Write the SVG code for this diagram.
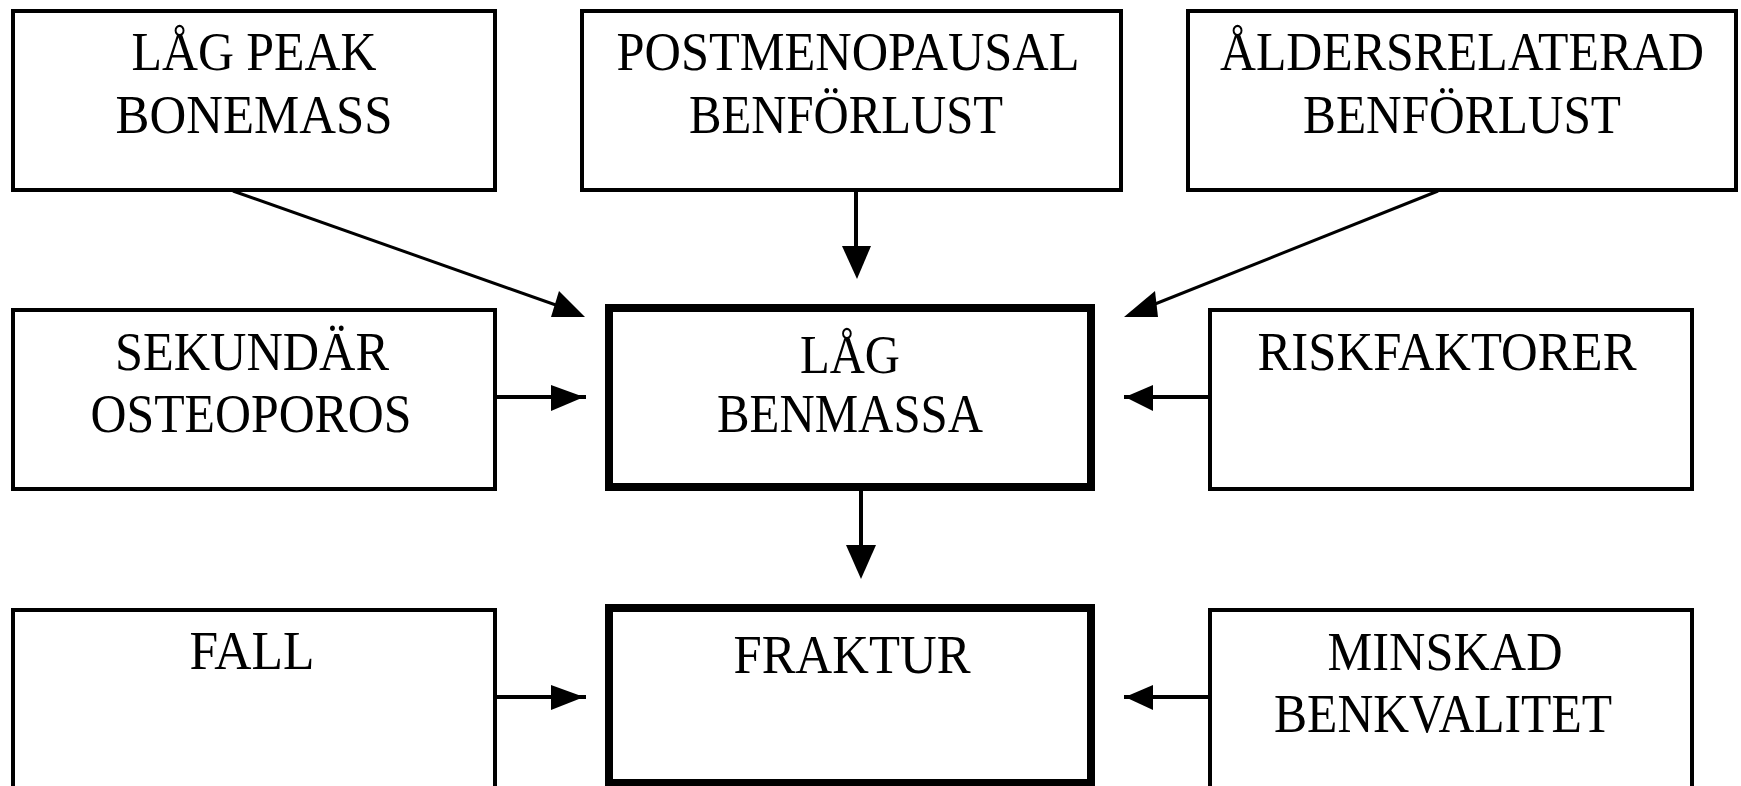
<svg xmlns="http://www.w3.org/2000/svg" width="1741" height="786" viewBox="0 0 1741 786">
<style>
.box{fill:#fff;stroke:#000;stroke-width:4}
.thick{fill:#fff;stroke:#000;stroke-width:8}
.lbl{font-family:"Liberation Serif","Times New Roman",serif;font-size:55px;fill:#000;text-anchor:middle}
.ln{stroke:#000;stroke-width:4;fill:none}
.dg{stroke:#000;stroke-width:3;fill:none}
.ah{fill:#000;stroke:none}
</style>
<rect width="1741" height="786" fill="#fff"/>
<g id="node-lag-peak">
<rect class="box" x="13" y="11" width="482" height="179"/>
<text class="lbl" x="254" y="70" textLength="245" lengthAdjust="spacingAndGlyphs">LÅG PEAK</text>
<text class="lbl" x="254" y="133" textLength="277" lengthAdjust="spacingAndGlyphs">BONEMASS</text>
</g>
<g id="node-postmenopausal">
<rect class="box" x="582" y="11" width="539" height="179"/>
<text class="lbl" x="848" y="70" textLength="463" lengthAdjust="spacingAndGlyphs">POSTMENOPAUSAL</text>
<text class="lbl" x="846" y="133" textLength="314" lengthAdjust="spacingAndGlyphs">BENFÖRLUST</text>
</g>
<g id="node-aldersrelaterad">
<rect class="box" x="1188" y="11" width="548" height="179"/>
<text class="lbl" x="1462" y="70" textLength="484" lengthAdjust="spacingAndGlyphs">ÅLDERSRELATERAD</text>
<text class="lbl" x="1462" y="133" textLength="318" lengthAdjust="spacingAndGlyphs">BENFÖRLUST</text>
</g>
<g id="node-sekundar">
<rect class="box" x="13" y="310" width="482" height="179"/>
<text class="lbl" x="252" y="370" textLength="274" lengthAdjust="spacingAndGlyphs">SEKUNDÄR</text>
<text class="lbl" x="251" y="432" textLength="321" lengthAdjust="spacingAndGlyphs">OSTEOPOROS</text>
</g>
<g id="node-lag-benmassa">
<rect class="thick" x="609" y="308" width="482" height="179"/>
<text class="lbl" x="850" y="373" textLength="100" lengthAdjust="spacingAndGlyphs">LÅG</text>
<text class="lbl" x="850" y="432" textLength="266" lengthAdjust="spacingAndGlyphs">BENMASSA</text>
</g>
<g id="node-riskfaktorer">
<rect class="box" x="1210" y="310" width="482" height="179"/>
<text class="lbl" x="1447" y="370" textLength="379" lengthAdjust="spacingAndGlyphs">RISKFAKTORER</text>
</g>
<g id="node-fall">
<rect class="box" x="13" y="610" width="482" height="200"/>
<text class="lbl" x="252" y="669" textLength="125" lengthAdjust="spacingAndGlyphs">FALL</text>
</g>
<g id="node-fraktur">
<rect class="thick" x="609" y="608" width="482" height="175"/>
<text class="lbl" x="852" y="673" textLength="237" lengthAdjust="spacingAndGlyphs">FRAKTUR</text>
</g>
<g id="node-minskad">
<rect class="box" x="1210" y="610" width="482" height="200"/>
<text class="lbl" x="1445" y="670" textLength="235" lengthAdjust="spacingAndGlyphs">MINSKAD</text>
<text class="lbl" x="1443" y="732" textLength="338" lengthAdjust="spacingAndGlyphs">BENKVALITET</text>
</g>
<g id="connectors">
<line class="dg" x1="233" y1="191" x2="570" y2="310"/>
<polygon class="ah" points="559,291 585,317 551,317"/>
<line class="ln" x1="856" y1="190" x2="856" y2="250"/>
<polygon class="ah" points="842,246 871,246 857,279"/>
<line class="dg" x1="1438" y1="191" x2="1140" y2="310"/>
<polygon class="ah" points="1155,291 1158,317 1124,317"/>
<line class="ln" x1="495" y1="397" x2="586" y2="397"/>
<polygon class="ah" points="551,385 584,397 551,411"/>
<line class="ln" x1="1210" y1="397" x2="1124" y2="397"/>
<polygon class="ah" points="1125,397 1153,385 1153,411"/>
<line class="ln" x1="861" y1="491" x2="861" y2="550"/>
<polygon class="ah" points="846,545 876,545 861,579"/>
<line class="ln" x1="495" y1="697" x2="586" y2="697"/>
<polygon class="ah" points="551,685 584,697 551,710"/>
<line class="ln" x1="1210" y1="697" x2="1124" y2="697"/>
<polygon class="ah" points="1125,697 1153,685 1153,710"/>
</g>
</svg>
